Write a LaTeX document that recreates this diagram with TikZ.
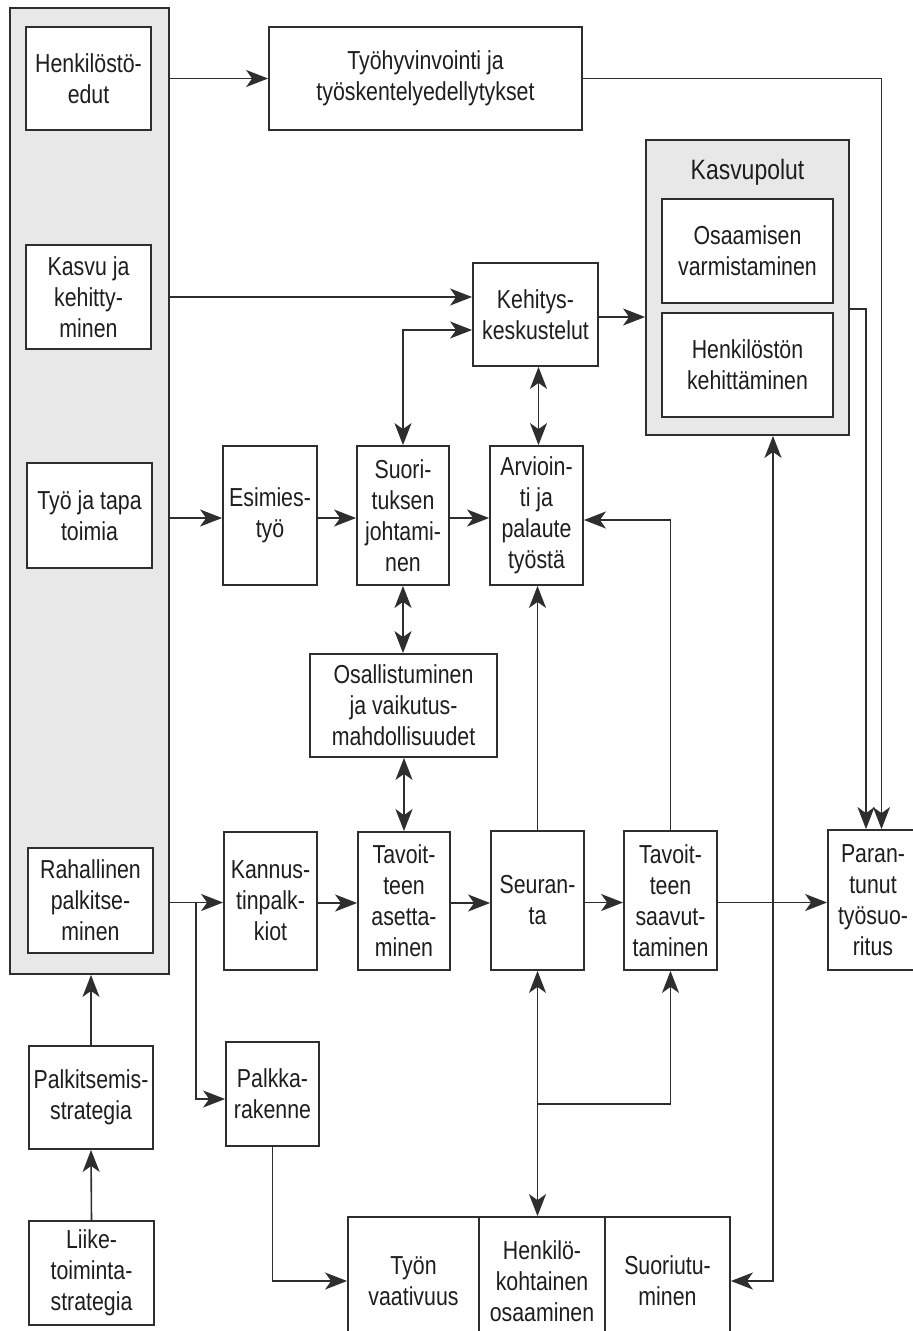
\documentclass[tikz,border=0pt]{standalone}
\usepackage{fontspec}
\setmainfont{Liberation Sans}[FakeStretch=0.82]
\usetikzlibrary{arrows.meta,calc}
\newcommand\bodyfont{\fontsize{26}{31}\selectfont}
\newcommand\titlefont{\fontsize{28}{31}\selectfont}
\definecolor{linec}{HTML}{2E2E2E}
\definecolor{textc}{HTML}{1E1E1E}
\definecolor{panelc}{HTML}{E8E8E8}
\tikzset{
  box/.style={draw=linec, line width=1.8pt, fill=white, inner sep=0pt, align=center, font=\bodyfont, text=textc},
  graybox/.style={draw=linec, line width=1.8pt, fill=panelc, inner sep=0pt},
  conn/.style={draw=linec, line width=1.6pt},
  arr/.style={conn, -{Stealth[length=22pt,width=17pt,inset=6pt]}},
  darr/.style={conn, {Stealth[length=22pt,width=17pt,inset=6pt]}-{Stealth[length=22pt,width=17pt,inset=6pt]}},
}
\begin{document}
\begin{tikzpicture}[x=1pt,y=-1pt]
\useasboundingbox (0,0) rectangle (913,1331);
\clip (0,0) rectangle (913,1331);
% left panel
\node[graybox, minimum width=159pt, minimum height=966pt] (panel) at (89.5,491) {};
\node[box, minimum width=125pt, minimum height=103pt] (henk) at (88.5,78.5) {Henkilöstö-\\edut};
\node[box, minimum width=125pt, minimum height=104pt] (kasvu) at (88.5,297) {Kasvu ja\\kehitty-\\minen};
\node[box, minimum width=125pt, minimum height=105pt] (tyo) at (89.5,515.5) {Työ ja tapa\\toimia};
\node[box, minimum width=125pt, minimum height=105pt] (raha) at (90.5,900.5) {Rahallinen\\palkitse-\\minen};
\node[box, minimum width=124pt, minimum height=103pt] (palkstrat) at (91,1097.5) {Palkitsemis-\\strategia};
\node[box, minimum width=125pt, minimum height=104pt] (liike) at (91.5,1273) {Liike-\\toiminta-\\strategia};
% top
\node[box, minimum width=313pt, minimum height=103pt] (tyohyv) at (425.5,78.5) {Työhyvinvointi ja\\työskentelyedellytykset};
% Kasvupolut
\node[graybox, minimum width=203pt, minimum height=295pt] (kp) at (747.5,287.5) {};
\node[font=\titlefont, text=textc, inner sep=0pt] (kptitle) at (747.5,172) {Kasvupolut};
\node[box, minimum width=171pt, minimum height=104pt] (osaam) at (747.5,251) {Osaamisen\\varmistaminen};
\node[box, minimum width=171pt, minimum height=104pt] (henkkeh) at (747.5,365) {Henkilöstön\\kehittäminen};
\node[box, minimum width=125pt, minimum height=103pt] (kehitys) at (535.5,314.5) {Kehitys-\\keskustelut};
% middle row
\node[box, minimum width=94pt, minimum height=139pt] (esimies) at (270,515.5) {Esimies-\\työ};
\node[box, minimum width=92pt, minimum height=139pt] (suor) at (403,515.5) {Suori-\\tuksen\\johtami-\\nen};
\node[box, minimum width=93pt, minimum height=139pt] (arv) at (536.5,515.5) {Arvioin-\\ti ja\\palaute\\työstä};
\node[box, minimum width=187pt, minimum height=103pt] (osall) at (403.5,705.5) {Osallistuminen\\ja vaikutus-\\mahdollisuudet};
% lower row
\node[box, minimum width=93pt, minimum height=138pt] (kann) at (270.5,901) {Kannus-\\tinpalk-\\kiot};
\node[box, minimum width=92pt, minimum height=138pt] (tavas) at (404,901) {Tavoit-\\teen\\asetta-\\minen};
\node[box, minimum width=93pt, minimum height=139pt] (seur) at (537.5,900.5) {Seuran-\\ta};
\node[box, minimum width=93pt, minimum height=139pt] (tavsa) at (670.5,900.5) {Tavoit-\\teen\\saavut-\\taminen};
\node[box, minimum width=90pt, minimum height=140pt] (paran) at (873,900) {Paran-\\tunut\\työsuo-\\ritus};
\node[box, minimum width=93pt, minimum height=104pt] (palkka) at (272.5,1094) {Palkka-\\rakenne};
% bottom
\node[box, minimum width=131pt, minimum height=128pt] (tyon) at (413.5,1281) {Työn\\vaativuus};
\node[box, minimum width=126pt, minimum height=128pt] (henkko) at (542,1281) {Henkilö-\\kohtainen\\osaaminen};
\node[box, minimum width=125pt, minimum height=128pt] (suoriu) at (667.5,1281) {Suoriutu-\\minen};
% connectors
\draw[arr] (henk -| panel.east) -- (henk -| tyohyv.west);
\draw[arr] (kasvu -| panel.east) -- (kasvu -| kehitys.west);
\draw[darr] (suor.north) |- ([yshift=-15.5pt]kehitys.west);
\draw[arr] ([yshift=-2.5pt]kehitys.east) -- ([yshift=-2.5pt]kehitys.east -| kp.west);
\draw[darr] ([xshift=3pt]kehitys.south) -- ([xshift=3pt]kehitys.south |- arv.north);
\draw[arr] ([yshift=-2.5pt]tyo -| panel.east) -- ([yshift=-2.5pt]esimies.west);
\draw[arr] ([yshift=-2.5pt]esimies.east) -- ([yshift=-2.5pt]suor.west);
\draw[arr] ([yshift=-2.5pt]suor.east) -- ([yshift=-2.5pt]arv.west);
\draw[arr] (tavsa.north) |- ([yshift=-4.5pt]arv.east);
\draw[arr] (seur.north) -- (seur.north |- arv.south);
\draw[darr] (suor.south) -- (suor.south |- osall.north);
\draw[darr] (osall.south -| tavas.north) -- (tavas.north);
\coordinate (rstart) at ([yshift=-2pt]raha -| panel.east);
\coordinate (br) at ($(rstart)+(26,0)$);
\draw[arr] (rstart) -- (rstart -| kann.west);
\draw[arr] (br) |- ([yshift=-5pt]palkka.west);
\draw[arr] ([yshift=-2pt]kann.east) -- ([yshift=-2pt]kann.east -| tavas.west);
\draw[arr] ([yshift=-2pt]tavas.east) -- ([yshift=-2pt]tavas.east -| seur.west);
\draw[arr] ([yshift=-2pt]seur.east) -- ([yshift=-2pt]seur.east -| tavsa.west);
\draw[arr] ([yshift=-2pt]tavsa.east) -- ([yshift=-2pt]tavsa.east -| paran.west);
\draw[arr] (palkka.south) |- (tyon.west);
\draw[darr] (seur.south) -- (seur.south |- henkko.north);
\coordinate (br2) at ($(seur.south)+(0,133)$);
\draw[arr] (br2) -| (tavsa.south);
\draw[darr] ([xshift=25.5pt]kp.south) |- (suoriu.east);
\draw[arr] ([yshift=-21.5pt]kp.east) -| ([xshift=-7pt]paran.north);
\draw[arr] (tyohyv.east) -| ([xshift=8.5pt]paran.north);
\draw[arr] (palkstrat.north) -- (palkstrat.north |- panel.south);
\draw[arr] (liike.north) -- (palkstrat.south);
\end{tikzpicture}
\end{document}
